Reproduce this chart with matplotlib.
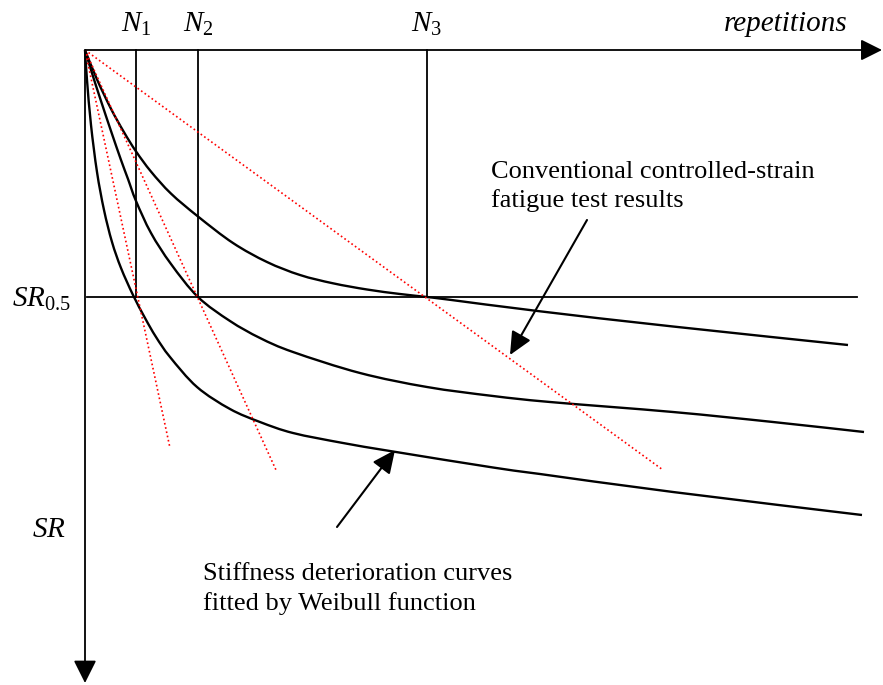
import matplotlib
matplotlib.use("Agg")
import matplotlib.pyplot as plt
from matplotlib.path import Path
from matplotlib.patches import PathPatch

plt.rcParams['font.family'] = ['Liberation Serif', 'DejaVu Serif']
plt.rcParams['mathtext.fontset'] = 'custom'
plt.rcParams['mathtext.rm'] = 'Liberation Serif'
plt.rcParams['mathtext.it'] = 'Liberation Serif:italic'

# ---- data (schematic units: repetitions to the right, stiffness drop downward) ----
curve_a_x = [0, 12, 26, 39, 51, 66, 86, 113, 148, 182, 215, 248, 282, 315, 342, 365, 455, 588, 763]
curve_a_y = [0, 29.4, 58.8, 82.2, 101.4, 121.6, 143.6, 166.5, 193, 212, 225, 233.3, 239.5, 244, 247, 249.8, 261.3, 276.5, 295]

curve_b_x = [0, 6, 16, 26, 36, 43, 51, 66, 86, 113, 145, 175, 208, 275, 342, 408, 465, 588, 688, 779]
curve_b_y = [0, 20, 51, 81, 110, 129, 151, 183, 214, 247, 271, 288, 302, 323, 337, 346, 352, 362, 372, 382]

curve_c_x = [0, 2, 6, 12, 19, 27, 36, 48, 60, 71, 85, 112, 145, 175, 208, 258, 308, 408, 455, 588, 777]
curve_c_y = [0, 30, 75, 122, 160, 192, 218, 245, 268, 287, 307, 337, 359, 372, 383, 393, 401.5, 417.5, 424, 442, 465]

n_positions = [51, 113, 342]
n_labels = [r'$N_1$', r'$N_2$', r'$N_3$']
sr_half = 247
sr_half_span = [2, 772]

secant_end_x = [85, 191, 578]
secant_end_y = [398, 420, 420]

# ---- figure ----
fig = plt.figure(figsize=(8.83, 6.85), dpi=100)
ax = fig.add_axes([0, 0, 1, 1])
ax.set_xlim(-85, 798)
ax.set_ylim(635, -50)
ax.axis('off')


def smooth_path(xs, ys):
    """Catmull-Rom curve through the read points, drawn as cubic Bezier segments."""
    pts = list(zip(xs, ys))
    n = len(pts)
    verts = [pts[0]]
    codes = [Path.MOVETO]
    for i in range(n - 1):
        p0 = pts[i - 1] if i > 0 else pts[i]
        p1 = pts[i]
        p2 = pts[i + 1]
        p3 = pts[i + 2] if i + 2 < n else pts[i + 1]
        c1 = (p1[0] + (p2[0] - p0[0]) / 6.0, p1[1] + (p2[1] - p0[1]) / 6.0)
        c2 = (p2[0] - (p3[0] - p1[0]) / 6.0, p2[1] - (p3[1] - p1[1]) / 6.0)
        verts += [c1, c2, p2]
        codes += [Path.CURVE4] * 3
    return Path(verts, codes)


# axes with arrows
ax.annotate('', xy=(797, 0), xytext=(0, 0),
            arrowprops=dict(arrowstyle='-|>,head_length=1.3,head_width=0.65',
                            lw=1.3, color='black', shrinkA=0, shrinkB=0))
ax.annotate('', xy=(0, 633), xytext=(0, 0),
            arrowprops=dict(arrowstyle='-|>,head_length=1.4,head_width=0.7',
                            lw=1.3, color='black', shrinkA=0, shrinkB=0))

# SR0.5 line and N lines
ax.plot(sr_half_span, [sr_half, sr_half], color='black', lw=1.3)
for nx in n_positions:
    ax.plot([nx, nx], [0, sr_half], color='black', lw=1.3)

# secant lines (red dotted)
for ex, ey in zip(secant_end_x, secant_end_y):
    ax.plot([0, ex], [0, ey], color='#ff0000', lw=1.2, linestyle=(0, (1, 1.6)))

# stiffness curves
for cx, cy in [(curve_a_x, curve_a_y), (curve_b_x, curve_b_y), (curve_c_x, curve_c_y)]:
    ax.add_patch(PathPatch(smooth_path(cx, cy), facecolor='none', edgecolor='black',
                           lw=1.7, joinstyle='round', capstyle='butt'))

# labels
for nx, lab in zip(n_positions, n_labels):
    ax.text(nx, -18, lab, fontsize=21, ha='center', va='baseline')
ax.text(639, -19, 'repetitions', fontsize=21, style='italic', ha='left', va='baseline')
ax.text(-73, 256.7, r'$SR_{0.5}$', fontsize=21, ha='left', va='baseline')
ax.text(-53, 487, r'$SR$', fontsize=21, ha='left', va='baseline')

ax.text(406, 127.7, 'Conventional controlled-strain', fontsize=19, ha='left', va='baseline')
ax.text(406, 157, 'fatigue test results', fontsize=19, ha='left', va='baseline')
ax.text(118.3, 530, 'Stiffness deterioration curves', fontsize=19, ha='left', va='baseline')
ax.text(118.3, 560, 'fitted by Weibull function', fontsize=19, ha='left', va='baseline')

# pointer arrows
ax.annotate('', xy=(425, 305), xytext=(502, 170),
            arrowprops=dict(arrowstyle='-|>,head_length=1.4,head_width=0.65',
                            lw=1.5, color='black', shrinkA=0, shrinkB=0))
ax.annotate('', xy=(310, 400), xytext=(252, 477),
            arrowprops=dict(arrowstyle='-|>,head_length=1.4,head_width=0.65',
                            lw=1.5, color='black', shrinkA=0, shrinkB=0))

fig.savefig('out.png', dpi=100)
